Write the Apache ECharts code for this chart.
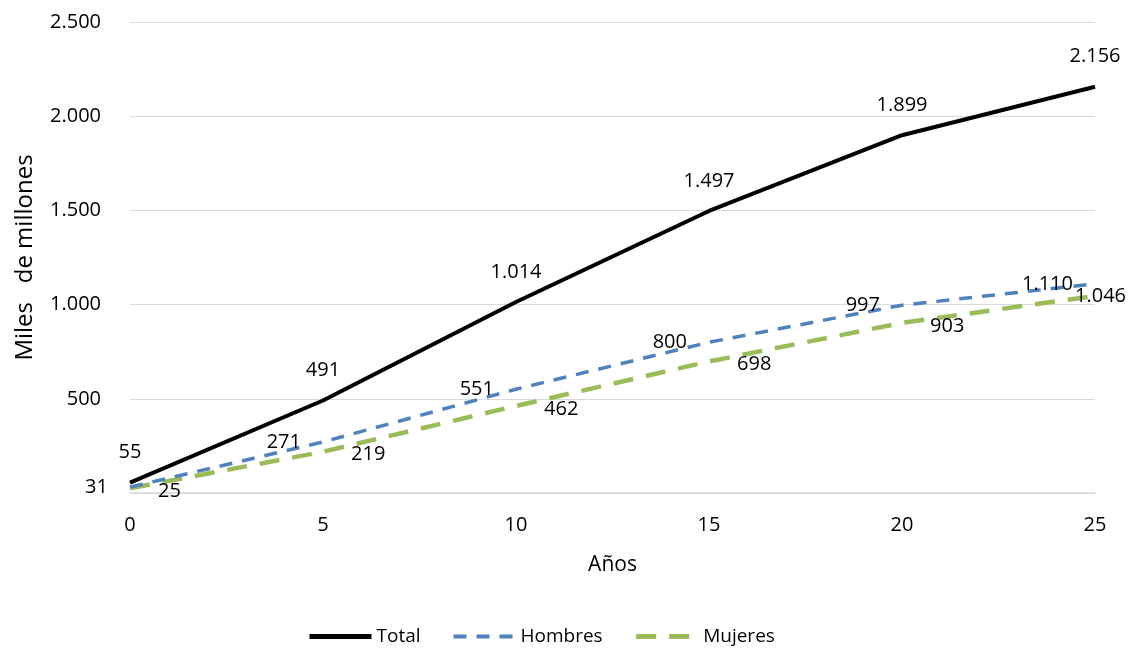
<!DOCTYPE html>
<html>
<head>
<meta charset="utf-8">
<script src="https://cdn.jsdelivr.net/npm/echarts@6/dist/echarts.min.js"></script>
<style>
html, body { margin: 0; padding: 0; background: #ffffff; }
#chart { width: 1138px; height: 648px; }
</style>
</head>
<body>
<div id="chart"></div>
<script>
// Años y valores (miles de millones)
const years = [0, 5, 10, 15, 20, 25];
const total = [55, 491, 1014, 1497, 1899, 2156];
const hombres = [31, 271, 551, 800, 997, 1110];
const mujeres = [25, 219, 462, 698, 903, 1046];
const yTicks = [0, 500, 1000, 1500, 2000, 2500];

const FONT = '"Open Sans", Lato, sans-serif';
const FS = 20;

// Separador de miles con punto; el cero no se muestra
function fmt(v) {
  if (v === 0) return '';
  return String(Math.round(v)).replace(/\B(?=(\d{3})+(?!\d))/g, '.');
}

function pairs(vals) {
  return years.map((x, i) => [x, vals[i]]);
}

const labelBase = { show: true, color: '#000', fontSize: FS, fontFamily: FONT,
  formatter: p => fmt(p.value[1]) };

// La última etiqueta de Mujeres se desplaza hacia dentro del borde derecho
const mujeresData = pairs(mujeres).map((pt, i) =>
  i === years.length - 1
    ? { value: pt, label: { offset: [-48, 0] } }
    : pt);

const chart = echarts.init(document.getElementById('chart'), null, { renderer: 'canvas' });
chart.setOption({
  animation: false,
  backgroundColor: '#ffffff',
  grid: { left: 130, right: 43, top: 22, bottom: 155, containLabel: false },
  xAxis: {
    type: 'value', min: 0, max: 25, interval: 5,
    name: 'Años', nameLocation: 'middle', nameGap: 62,
    nameTextStyle: { fontSize: 21, color: '#000', fontFamily: FONT },
    axisLine: { show: true, lineStyle: { color: '#d9d9d9', width: 1.5 } },
    axisTick: { show: false },
    splitLine: { show: false },
    axisLabel: { color: '#000', fontSize: FS, fontFamily: FONT, margin: 22 }
  },
  yAxis: {
    type: 'value', min: yTicks[0], max: yTicks[yTicks.length - 1], interval: 500,
    name: 'Miles   de millones', nameLocation: 'middle', nameGap: 93, nameRotate: 90,
    nameTextStyle: { fontSize: 24, color: '#000', fontFamily: FONT },
    axisLine: { show: false },
    axisTick: { show: false },
    splitLine: { show: true, lineStyle: { color: '#d9d9d9', width: 1 } },
    axisLabel: { color: '#000', fontSize: FS, fontFamily: FONT, margin: 29, formatter: fmt }
  },
  legend: {
    top: 622, left: 302,
    itemWidth: 62, itemHeight: 14, itemGap: 31,
    itemStyle: { opacity: 0 },
    textStyle: { fontSize: 19, color: '#000', fontFamily: FONT },
    data: [
      { name: 'Total', lineStyle: { width: 5 } },
      { name: 'Hombres', lineStyle: { width: 4 } },
      { name: 'Mujeres', lineStyle: { width: 5 } }
    ]
  },
  series: [
    {
      name: 'Total', type: 'line', data: pairs(total),
      showSymbol: true, symbol: 'circle', symbolSize: 0.1,
      lineStyle: { color: '#000000', width: 4 },
      itemStyle: { color: '#000000' },
      label: Object.assign({}, labelBase, { position: 'top', distance: 20 }),
      z: 3
    },
    {
      name: 'Hombres', type: 'line', data: pairs(hombres),
      showSymbol: true, symbol: 'circle', symbolSize: 0.1,
      lineStyle: { color: '#4f81bd', width: 3.5, type: [13, 10] },
      itemStyle: { color: '#4f81bd' },
      label: Object.assign({}, labelBase, { position: 'left', distance: 22 }),
      z: 2
    },
    {
      name: 'Mujeres', type: 'line', data: mujeresData,
      showSymbol: true, symbol: 'circle', symbolSize: 0.1,
      lineStyle: { color: '#9bbb59', width: 4.5, type: [20, 13] },
      itemStyle: { color: '#9bbb59' },
      label: Object.assign({}, labelBase, { position: 'right', distance: 28, offset: [0, 3] }),
      z: 1
    }
  ]
});
</script>
</body>
</html>
